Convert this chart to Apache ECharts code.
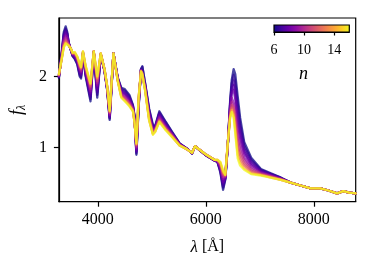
<!DOCTYPE html>
<html>
<head>
<meta charset="utf-8">
<script src="https://cdn.jsdelivr.net/npm/echarts@6/dist/echarts.min.js"></script>
<style>
html,body{margin:0;padding:0;background:#fff;}
#chart{width:374px;height:269px;}
</style>
</head>
<body>
<div id="chart"></div>
<script>
// Wavelength grid (Å)
const wavelength = [3280, 3335, 3370, 3405, 3435, 3460, 3500, 3535, 3575, 3620,
  3665, 3690, 3725, 3775, 3865, 3925, 3990, 4055, 4125, 4175,
  4220, 4290, 4370, 4435, 4500, 4585, 4650, 4680, 4715, 4755,
  4800, 4825, 4875, 4950, 5020, 5060, 5140, 5260, 5370, 5515,
  5645, 5745, 5800, 6010, 6160, 6215, 6270, 6320, 6360, 6405,
  6450, 6480, 6515, 6545, 6590, 6635, 6710, 6840, 7020, 7205,
  7390, 7570, 7755, 7940, 8120, 8270, 8430, 8545, 8655, 8775];

// Flux f_lambda for each n
const flux_n6 = [1.98, 2.35, 2.62, 2.70, 2.62, 2.48, 2.37, 2.28, 2.24, 2.17,
  2.00, 1.97, 2.30, 2.00, 1.65, 2.34, 1.70, 2.30, 2.07, 1.80,
  1.39, 2.32, 1.98, 1.84, 1.82, 1.74, 1.60, 1.45, 0.90, 1.55,
  2.10, 2.14, 1.91, 1.55, 1.32, 1.30, 1.51, 1.36, 1.23, 1.06,
  0.99, 0.92, 1.02, 0.89, 0.82, 0.80, 0.65, 0.41, 0.55, 1.00,
  1.65, 1.95, 2.10, 2.03, 1.72, 1.42, 1.08, 0.86, 0.70, 0.64,
  0.58, 0.51, 0.47, 0.43, 0.43, 0.40, 0.36, 0.39, 0.37, 0.36];
const flux_n6_5 = [1.99, 2.34, 2.59, 2.67, 2.60, 2.47, 2.37, 2.29, 2.25, 2.18,
  2.02, 1.99, 2.31, 2.02, 1.68, 2.34, 1.74, 2.30, 2.07, 1.81,
  1.41, 2.32, 1.97, 1.82, 1.80, 1.72, 1.59, 1.44, 0.92, 1.57,
  2.10, 2.13, 1.90, 1.53, 1.30, 1.29, 1.49, 1.35, 1.22, 1.06,
  0.99, 0.92, 1.02, 0.89, 0.82, 0.80, 0.67, 0.44, 0.56, 1.01,
  1.62, 1.90, 2.02, 1.93, 1.62, 1.34, 1.03, 0.83, 0.69, 0.63,
  0.58, 0.51, 0.47, 0.43, 0.43, 0.40, 0.36, 0.39, 0.37, 0.36];
const flux_n7 = [1.99, 2.33, 2.57, 2.65, 2.59, 2.47, 2.37, 2.29, 2.26, 2.20,
  2.04, 2.01, 2.31, 2.03, 1.71, 2.34, 1.77, 2.30, 2.08, 1.81,
  1.42, 2.32, 1.97, 1.81, 1.78, 1.70, 1.58, 1.43, 0.94, 1.58,
  2.09, 2.11, 1.89, 1.51, 1.29, 1.28, 1.48, 1.33, 1.21, 1.05,
  0.99, 0.92, 1.02, 0.89, 0.82, 0.81, 0.68, 0.47, 0.57, 1.01,
  1.60, 1.85, 1.94, 1.84, 1.52, 1.27, 0.99, 0.81, 0.68, 0.63,
  0.57, 0.51, 0.47, 0.43, 0.43, 0.40, 0.36, 0.39, 0.37, 0.36];
const flux_n7_5 = [2.00, 2.32, 2.55, 2.62, 2.57, 2.46, 2.38, 2.30, 2.27, 2.21,
  2.06, 2.02, 2.32, 2.05, 1.73, 2.34, 1.80, 2.31, 2.08, 1.82,
  1.43, 2.32, 1.96, 1.79, 1.76, 1.69, 1.57, 1.42, 0.95, 1.60,
  2.09, 2.10, 1.87, 1.49, 1.27, 1.27, 1.46, 1.32, 1.20, 1.05,
  0.99, 0.92, 1.02, 0.89, 0.82, 0.81, 0.70, 0.50, 0.57, 1.02,
  1.57, 1.80, 1.88, 1.76, 1.43, 1.20, 0.95, 0.78, 0.67, 0.62,
  0.57, 0.51, 0.47, 0.43, 0.43, 0.40, 0.36, 0.39, 0.37, 0.36];
const flux_n8 = [2.00, 2.31, 2.53, 2.60, 2.56, 2.46, 2.38, 2.30, 2.28, 2.22,
  2.08, 2.04, 2.32, 2.06, 1.76, 2.34, 1.83, 2.31, 2.08, 1.83,
  1.45, 2.32, 1.96, 1.78, 1.75, 1.67, 1.56, 1.41, 0.97, 1.61,
  2.09, 2.09, 1.86, 1.48, 1.26, 1.27, 1.45, 1.31, 1.20, 1.05,
  0.99, 0.92, 1.02, 0.89, 0.82, 0.81, 0.71, 0.52, 0.58, 1.02,
  1.55, 1.76, 1.81, 1.68, 1.35, 1.14, 0.92, 0.76, 0.66, 0.61,
  0.57, 0.51, 0.47, 0.43, 0.43, 0.40, 0.36, 0.39, 0.37, 0.36];
const flux_n9 = [2.01, 2.29, 2.50, 2.57, 2.54, 2.45, 2.38, 2.31, 2.30, 2.23,
  2.10, 2.06, 2.33, 2.08, 1.79, 2.35, 1.87, 2.31, 2.09, 1.83,
  1.46, 2.32, 1.95, 1.76, 1.72, 1.65, 1.55, 1.39, 0.99, 1.63,
  2.08, 2.07, 1.85, 1.46, 1.24, 1.26, 1.43, 1.29, 1.19, 1.04,
  0.98, 0.93, 1.02, 0.90, 0.83, 0.82, 0.73, 0.56, 0.59, 1.03,
  1.52, 1.70, 1.72, 1.57, 1.23, 1.05, 0.86, 0.73, 0.65, 0.61,
  0.56, 0.51, 0.47, 0.43, 0.43, 0.40, 0.36, 0.39, 0.37, 0.36];
const flux_n10 = [2.01, 2.28, 2.47, 2.54, 2.52, 2.45, 2.38, 2.31, 2.31, 2.25,
  2.12, 2.08, 2.33, 2.10, 1.82, 2.35, 1.90, 2.31, 2.09, 1.84,
  1.48, 2.32, 1.95, 1.75, 1.70, 1.63, 1.54, 1.38, 1.01, 1.65,
  2.08, 2.06, 1.84, 1.43, 1.23, 1.25, 1.41, 1.28, 1.18, 1.04,
  0.98, 0.93, 1.02, 0.90, 0.83, 0.82, 0.75, 0.59, 0.60, 1.03,
  1.49, 1.64, 1.64, 1.47, 1.13, 0.96, 0.82, 0.70, 0.64, 0.60,
  0.56, 0.51, 0.47, 0.43, 0.43, 0.40, 0.36, 0.39, 0.37, 0.36];
const flux_n11 = [2.02, 2.27, 2.45, 2.51, 2.50, 2.44, 2.39, 2.32, 2.32, 2.26,
  2.14, 2.10, 2.34, 2.12, 1.85, 2.35, 1.93, 2.32, 2.09, 1.85,
  1.49, 2.32, 1.94, 1.73, 1.69, 1.62, 1.53, 1.37, 1.03, 1.67,
  2.08, 2.05, 1.82, 1.42, 1.21, 1.24, 1.39, 1.27, 1.17, 1.04,
  0.98, 0.93, 1.02, 0.90, 0.83, 0.82, 0.77, 0.62, 0.60, 1.04,
  1.47, 1.60, 1.57, 1.38, 1.04, 0.90, 0.78, 0.68, 0.63, 0.59,
  0.56, 0.51, 0.47, 0.43, 0.43, 0.40, 0.36, 0.39, 0.37, 0.36];
const flux_n12 = [2.02, 2.26, 2.43, 2.49, 2.49, 2.44, 2.39, 2.32, 2.33, 2.27,
  2.15, 2.11, 2.34, 2.13, 1.87, 2.35, 1.96, 2.32, 2.10, 1.85,
  1.50, 2.32, 1.94, 1.72, 1.67, 1.60, 1.52, 1.36, 1.04, 1.68,
  2.07, 2.04, 1.82, 1.40, 1.20, 1.23, 1.38, 1.26, 1.16, 1.03,
  0.98, 0.93, 1.02, 0.90, 0.83, 0.83, 0.78, 0.64, 0.61, 1.04,
  1.45, 1.56, 1.52, 1.32, 0.97, 0.84, 0.75, 0.66, 0.62, 0.59,
  0.55, 0.51, 0.47, 0.43, 0.43, 0.40, 0.36, 0.39, 0.37, 0.36];
const flux_n14 = [2.03, 2.26, 2.41, 2.47, 2.48, 2.43, 2.39, 2.33, 2.33, 2.27,
  2.17, 2.12, 2.35, 2.14, 1.89, 2.35, 1.98, 2.32, 2.10, 1.86,
  1.51, 2.32, 1.93, 1.71, 1.66, 1.59, 1.52, 1.36, 1.05, 1.69,
  2.07, 2.03, 1.81, 1.39, 1.19, 1.22, 1.37, 1.25, 1.16, 1.03,
  0.98, 0.93, 1.02, 0.90, 0.83, 0.83, 0.79, 0.66, 0.62, 1.05,
  1.43, 1.53, 1.46, 1.25, 0.90, 0.79, 0.71, 0.64, 0.62, 0.58,
  0.55, 0.51, 0.47, 0.43, 0.43, 0.40, 0.36, 0.39, 0.37, 0.36];
const flux_n16 = [2.03, 2.25, 2.40, 2.46, 2.47, 2.43, 2.39, 2.33, 2.34, 2.28,
  2.18, 2.13, 2.35, 2.15, 1.90, 2.35, 2.00, 2.32, 2.10, 1.86,
  1.52, 2.32, 1.93, 1.70, 1.65, 1.58, 1.51, 1.35, 1.06, 1.70,
  2.07, 2.02, 1.80, 1.38, 1.18, 1.22, 1.36, 1.24, 1.15, 1.03,
  0.98, 0.93, 1.02, 0.90, 0.83, 0.83, 0.80, 0.68, 0.62, 1.05,
  1.42, 1.50, 1.42, 1.20, 0.85, 0.75, 0.69, 0.63, 0.61, 0.58,
  0.55, 0.51, 0.47, 0.43, 0.43, 0.40, 0.36, 0.39, 0.37, 0.36];

const nValues = [6, 6.5, 7, 7.5, 8, 9, 10, 11, 12, 14, 16];
const fluxes = [flux_n6, flux_n6_5, flux_n7, flux_n7_5, flux_n8, flux_n9, flux_n10, flux_n11, flux_n12, flux_n14, flux_n16];

// Tick labels
const xTicks = [4000, 6000, 8000];
const yTicks = [1, 2];
const colorbarTicks = [6, 10, 14];

// plasma colormap
const plasmaStops = ['#0d0887', '#41049d', '#6a00a8', '#8f0da4', '#b12a90', '#cc4778', '#e16462', '#f2844b', '#fca636', '#fcce25', '#f0f921'];
const lineColors = ['#0d0887', '#2a0593', '#41049d', '#5601a4', '#6a00a8', '#8f0da4', '#b12a90', '#cc4778', '#e16462', '#fca636', '#f0f921'];

const FONT = '"Liberation Serif", "DejaVu Serif", serif';
const plain = v => String(v);

const chart = echarts.init(document.getElementById('chart'), null, {renderer: 'canvas'});

const series = fluxes.map((arr, k) => ({
  type: 'line',
  name: 'n=' + nValues[k],
  xAxisIndex: 0, yAxisIndex: 0,
  data: wavelength.map((w, i) => [w, arr[i]]),
  showSymbol: false,
  symbol: 'none',
  lineStyle: {color: lineColors[k], width: 2.3, opacity: 0.75, join: 'round', cap: 'round'},
  itemStyle: {color: lineColors[k]},
  z: 2,
  silent: true
}));

const option = {
  animation: false,
  backgroundColor: '#fff',
  grid: [
    {left: 56, top: 18, width: 299.7, height: 183.7, show: true, borderColor: '#000', borderWidth: 1.2, backgroundColor: 'transparent'},
    {left: 274, top: 25, width: 75.3, height: 7, show: true, borderColor: '#000', borderWidth: 1.2,
      backgroundColor: {type: 'linear', x: 0, y: 0, x2: 1, y2: 0,
        colorStops: plasmaStops.map((c, i) => ({offset: i / (plasmaStops.length - 1), color: c}))}}
  ],
  xAxis: [
    {
      type: 'value', gridIndex: 0, min: 3280, max: 8775,
      axisLine: {show: true, lineStyle: {color: '#000', width: 1.2}},
      axisTick: {show: true, inside: false, length: 5, lineStyle: {color: '#000', width: 1.2}, customValues: xTicks},
      axisLabel: {show: true, customValues: xTicks, formatter: plain, color: '#000', fontFamily: FONT, fontSize: 16, margin: 10},
      splitLine: {show: false},
      name: '{i|λ} [Å]', nameLocation: 'middle', nameGap: 37,
      nameTextStyle: {color: '#000', fontFamily: FONT, fontSize: 16,
        rich: {i: {fontStyle: 'italic', fontFamily: FONT, fontSize: 17, color: '#000'}}}
    },
    {
      type: 'value', gridIndex: 1, min: 6, max: 16, interval: 4,
      axisLine: {show: true, lineStyle: {color: '#000', width: 1.2}},
      axisTick: {show: true, inside: false, length: 3.5, lineStyle: {color: '#000', width: 1.2}, customValues: colorbarTicks},
      axisLabel: {show: true, customValues: colorbarTicks, formatter: plain, color: '#000', fontFamily: FONT, fontSize: 14, margin: 11},
      splitLine: {show: false}
    }
  ],
  yAxis: [
    {
      type: 'value', gridIndex: 0, min: 0.243, max: 2.817,
      axisLine: {show: true, lineStyle: {color: '#000', width: 1.2}},
      axisTick: {show: true, inside: false, length: 5, lineStyle: {color: '#000', width: 1.2}, customValues: yTicks},
      axisLabel: {show: true, customValues: yTicks, formatter: plain, color: '#000', fontFamily: FONT, fontSize: 16, margin: 12},
      splitLine: {show: false},
      name: '{i|f}{s|λ}', nameLocation: 'middle', nameGap: 30, nameRotate: 90,
      nameTextStyle: {color: '#000', fontFamily: FONT, fontSize: 16,
        rich: {
          i: {fontStyle: 'italic', fontFamily: FONT, fontSize: 18, lineHeight: 22, color: '#000'},
          s: {fontStyle: 'italic', fontFamily: FONT, fontSize: 12, lineHeight: 12, verticalAlign: 'bottom', color: '#000'}
        }}
    },
    {
      type: 'value', gridIndex: 1, min: 0, max: 1,
      show: false, splitLine: {show: false}
    }
  ],
  graphic: [
    {type: 'text', left: 299, top: 65, silent: true,
      style: {text: 'n', fill: '#000', font: 'italic 18px ' + FONT}}
  ],
  series: series
};

chart.setOption(option);
</script>
</body>
</html>
